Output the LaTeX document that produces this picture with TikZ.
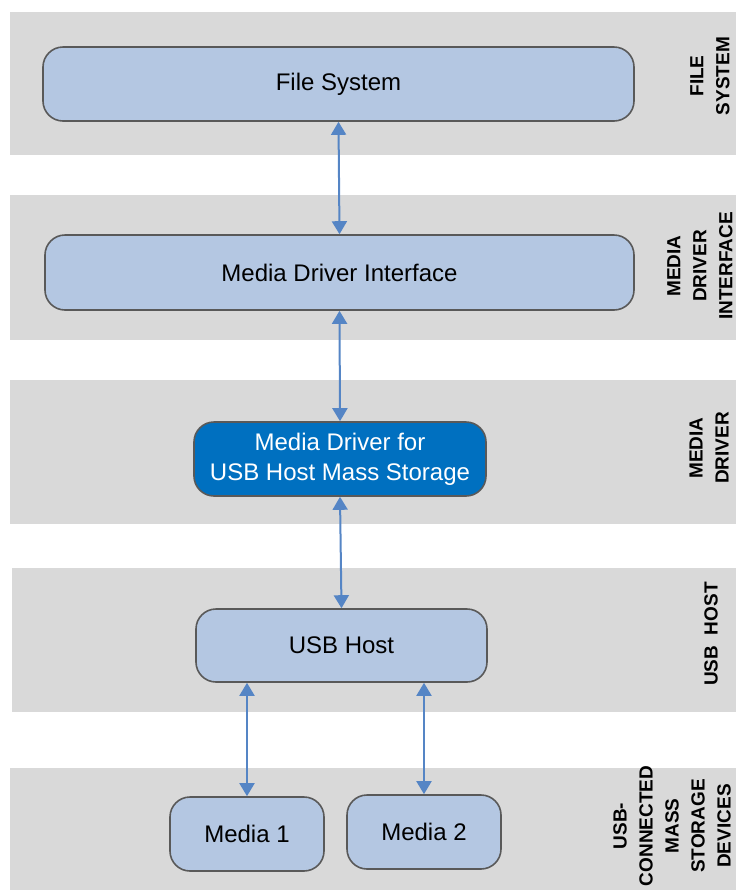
\documentclass[tikz,border=0pt]{standalone}
\usepackage{fontspec}
\setmainfont{Liberation Sans}
\usepackage{tikz}
\usetikzlibrary{arrows.meta}

\definecolor{bandgray}{HTML}{D9D9D9}
\definecolor{boxfill}{HTML}{B4C7E2}
\definecolor{boxline}{HTML}{595959}
\definecolor{drvblue}{HTML}{0070C0}
\definecolor{arrowblue}{HTML}{5585C5}

\begin{document}
\begin{tikzpicture}[x=0.5pt, y=-0.5pt,
    layer/.style = {draw=boxline, line width=0.8pt, fill=boxfill, rounded corners=10pt,
                    font=\fontsize{12}{15}\selectfont},
    driver/.style = {layer, fill=drvblue, text=white},
    band/.style = {rotate=90, align=center, font=\fontsize{9.5}{13}\selectfont\bfseries},
    link/.style = {arrowblue, line width=1pt, {Triangle[width=7.5pt,length=6.5pt]}-{Triangle[width=7.5pt,length=6.5pt]}}]
    \useasboundingbox (0,0) rectangle (736,890);
    % background bands
    \fill[bandgray] (10,12) rectangle (736,155);
    \fill[bandgray] (10,195) rectangle (736,340);
    \fill[bandgray] (10,380) rectangle (736,524);
    \fill[bandgray] (12,568) rectangle (736,712);
    \fill[bandgray] (10,768) rectangle (736,890);
    % layers
    \node[layer, minimum width=295.5pt, minimum height=37pt] (fs) at (338.5,84) {File System};
    \node[layer, minimum width=294.5pt, minimum height=37.5pt] (mdi) at (339.5,272.5) {Media Driver Interface};
    \node[driver, minimum width=146pt, minimum height=37pt, align=center] (md) at (340,459) {Media Driver for\\USB Host Mass Storage};
    \node[layer, minimum width=145.5pt, minimum height=36.5pt] (uh) at (341.5,645.5) {USB Host};
    \node[layer, minimum width=77pt, minimum height=37pt] (m1) at (247,834) {Media 1};
    \node[layer, minimum width=77pt, minimum height=37pt] (m2) at (424,832) {Media 2};
    % side labels
    \node[band] (lfs) at (710,76) {FILE\\SYSTEM};
    \node[band] (lmdi) at (700,266) {MEDIA\\DRIVER\\INTERFACE};
    \node[band] (lmd) at (709,448) {MEDIA\\DRIVER};
    \node[band] (luh) at (711,634) {USB\ \ HOST};
    \node[band] (ldev) at (672,826) {USB-\\CONNECTED\\MASS\\STORAGE\\DEVICES};
    % connectors
    \draw[link] (fs.south) -- (mdi.north);
    \draw[link] (mdi.south) -- (md.north);
    \draw[link] (md.south) -- (uh.north);
    \draw[link] (m1.north |- uh.south) -- (m1.north);
    \draw[link] (m2.north |- uh.south) -- (m2.north);
\end{tikzpicture}
\end{document}
